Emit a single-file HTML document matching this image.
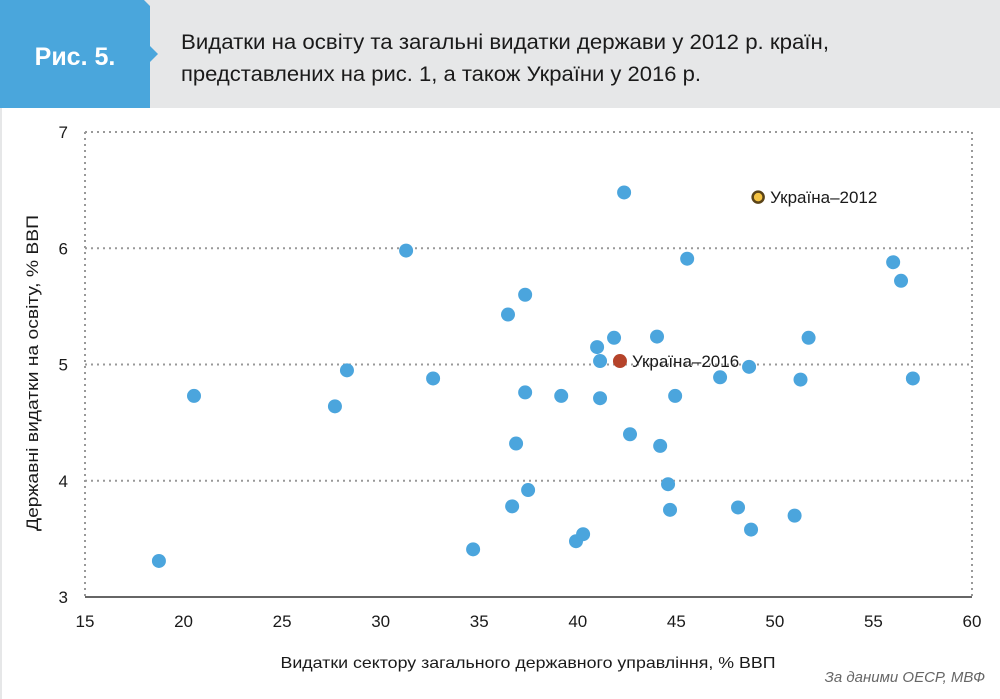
<!DOCTYPE html>
<html><head><meta charset="utf-8">
<style>
body{margin:0;width:1000px;height:699px;background:#fff;font-family:"Liberation Sans",sans-serif;overflow:hidden;position:relative}
</style></head><body>
<svg width="1000" height="699" style="position:absolute;left:0;top:0">
<rect x="0" y="0" width="1000" height="108" fill="#e6e7e8"/>
<polygon points="0,0 144,0 150,6 150,46 158,54 150,62 150,108 0,108" fill="#4aa6dc"/>
<text x="75" y="65" fill="#fff" font-size="25" font-weight="bold" text-anchor="middle">Рис. 5.</text>
<text x="181" y="49" fill="#1a1a1a" font-size="21" textLength="648" lengthAdjust="spacingAndGlyphs">Видатки на освіту та загальні видатки держави у 2012 р. країн,</text>
<text x="181" y="81" fill="#1a1a1a" font-size="21" textLength="520" lengthAdjust="spacingAndGlyphs">представлених на рис. 1, а також України у 2016 р.</text>
<line x1="1" y1="108" x2="1" y2="699" stroke="#e6e7e8" stroke-width="2"/>
<g id="grid"></g>
<g id="axes"></g>
<g id="marks"></g>
<text x="38" y="373" transform="rotate(-90 38 373)" font-size="17" fill="#1a1a1a" text-anchor="middle" textLength="316" lengthAdjust="spacingAndGlyphs">Державні видатки на освіту, % ВВП</text>
<text x="528" y="668" font-size="16" fill="#1a1a1a" text-anchor="middle" textLength="495" lengthAdjust="spacingAndGlyphs">Видатки сектору загального державного управління, % ВВП</text>
<text x="985" y="682" font-size="15" fill="#666" font-style="italic" text-anchor="end">За даними ОЕСР, МВФ</text>
</svg>
<script>
const xTicks=[15,20,25,30,35,40,45,50,55,60];
const yTicks=[3,4,5,6,7];
const xs=[18.75,20.53,27.68,28.29,31.29,32.66,34.69,36.46,36.67,36.87,37.33,37.33,37.48,39.16,39.91,40.27,40.98,41.13,41.13,41.84,42.35,42.65,44.02,44.18,44.58,44.68,44.94,45.55,47.22,48.13,48.69,48.79,51.0,51.30,51.71,56.0,56.4,57.0];
const ys=[3.31,4.73,4.64,4.95,5.98,4.88,3.41,5.43,3.78,4.32,5.60,4.76,3.92,4.73,3.48,3.54,5.15,5.03,4.71,5.23,6.48,4.40,5.24,4.30,3.97,3.75,4.73,5.91,4.89,3.77,4.98,3.58,3.70,4.87,5.23,5.88,5.72,4.88];
const ukrLabels=["Україна–2016","Україна–2012"];
const ukrX=[42.14,49.15];
const ukrY=[5.03,6.44];
const NS="http://www.w3.org/2000/svg";
const X=v=>85+(v-15)*(887/45);
const Y=v=>597-(v-3)*(465/4);
function mk(t,a,p){const e=document.createElementNS(NS,t);for(const k in a)e.setAttribute(k,a[k]);p.appendChild(e);return e;}
const grid=document.getElementById('grid'),axes=document.getElementById('axes'),marks=document.getElementById('marks');
yTicks.forEach(v=>{
 if(v>3){const l=mk('line',{x1:85,x2:972,y1:Y(v),y2:Y(v),stroke:'#999','stroke-width':2,'stroke-dasharray':'2,4'},grid);
 }
 const t=mk('text',{x:68,y:Y(v)+6,'font-size':17,'text-anchor':'end',fill:'#1a1a1a'},axes);t.textContent=v;
 
});
[15,60].forEach(v=>{const l=mk('line',{x1:X(v),x2:X(v),y1:Y(7),y2:Y(3),stroke:'#999','stroke-width':2,'stroke-dasharray':'2,4'},grid);
 });
const ax=mk('line',{x1:85,x2:972,y1:597,y2:597,stroke:'#333','stroke-width':1.5},axes);

xTicks.forEach(v=>{const t=mk('text',{x:X(v),y:627,'font-size':17,'text-anchor':'middle',fill:'#1a1a1a'},axes);t.textContent=v;
 });
xs.forEach((v,i)=>{const c=mk('circle',{cx:X(v),cy:Y(ys[i]),r:7,fill:'#4ba5dd'},marks);
 });
const fills=['#b5432a','#f5c342'],strokes=['none','#5a4318'];
ukrX.forEach((v,i)=>{const c=mk('circle',{cx:X(v),cy:Y(ukrY[i]),r:i?5.5:7,fill:fills[i],stroke:strokes[i],'stroke-width':i?2.5:0},marks);
 
 const t=mk('text',{x:X(v)+12,y:Y(ukrY[i])+6,'font-size':17,fill:'#1a1a1a'},marks);t.textContent=ukrLabels[i];
 });
</script>
</body></html>
